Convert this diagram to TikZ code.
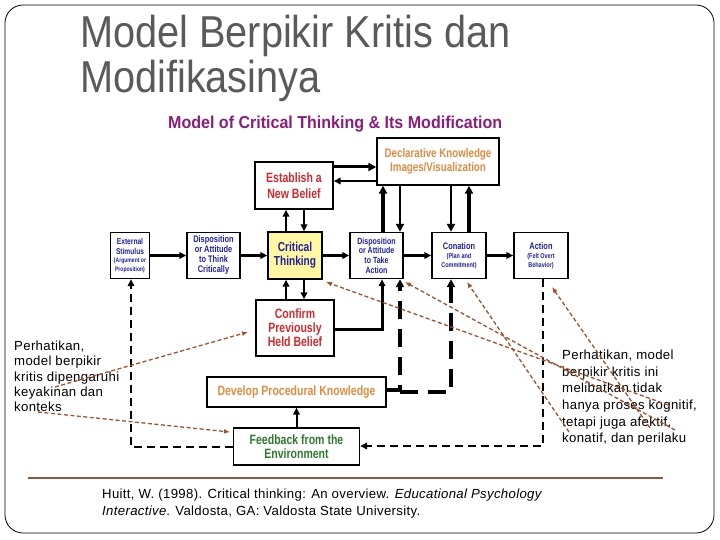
\documentclass[tikz,border=0pt]{standalone}
\usepackage{fontspec}
\setmainfont{Liberation Sans}
\newfontfamily\cnd[FakeStretch=0.78]{Liberation Sans}
\newfontfamily\notefont[LetterSpace=2.5]{Liberation Sans}
\usetikzlibrary{arrows.meta}
\definecolor{titlegray}{HTML}{5A5A5A}
\definecolor{purp}{HTML}{8B1C7C}
\definecolor{dblue}{HTML}{1F1FA0}
\definecolor{redt}{HTML}{D7282E}
\definecolor{oranget}{HTML}{E08B3F}
\definecolor{greent}{HTML}{2D7A2D}
\definecolor{yfill}{HTML}{FFF7A1}
\definecolor{annc}{HTML}{A0522D}
\definecolor{footc}{HTML}{8A5A3A}
\newcommand{\sm}[1]{\fontsize{#1}{#1}\selectfont}
\begin{document}
\begin{tikzpicture}[x=1pt,y=-1pt,
  box/.style={draw, line width=1.4pt, inner sep=0pt, align=center, text=dblue},
  harr/.style={line width=2.4pt, -{Triangle[length=7pt,width=6.5pt]}},
  tarr/.style={line width=3.6pt, -{Triangle[length=8pt,width=8pt]}},
  fdash/.style={line width=2.8pt, dash pattern=on 8pt off 5pt, -{Triangle[length=7pt,width=6.5pt]}},
  ldash/.style={line width=3.5pt, dash pattern=on 18pt off 10pt, -{Triangle[length=8pt,width=8pt]}},
  ann/.style={draw=annc, line width=1.3pt, dash pattern=on 4pt off 2.5pt, -{Latex[length=6pt,width=5pt]}},
  note/.style={inner sep=0pt, align=left, anchor=north west, font=\notefont\fontsize{13.2}{15.4}\selectfont}
]
\useasboundingbox (0,0) rectangle (720,540);
\draw[line width=0.8pt, rounded corners=18pt] (5,5) rectangle (714,533);

% titles
\node[anchor=base west, inner sep=0pt, text=titlegray] (t1) at (80,48)
  {\scalebox{0.888}[1]{\fontsize{44.7}{50}\selectfont Model Berpikir Kritis dan}};
\node[anchor=base west, inner sep=0pt, text=titlegray] (t2) at (80,93)
  {\scalebox{0.888}[1]{\fontsize{44.7}{50}\selectfont Modifikasinya}};
\node[anchor=base west, inner sep=0pt, text=purp] (st) at (168,129)
  {\resizebox{334pt}{12.5pt}{\cnd\bfseries Model of Critical Thinking \& Its Modification}};

% boxes
\node[box, minimum width=39pt, minimum height=46pt, font=\cnd\bfseries\fontsize{8.5}{9.5}\selectfont] (ext) at (130,255.5)
  {External\\Stimulus\\[-1pt]\sm{6.5}(Argument or\\[-1pt]\sm{6.5}Proposition)};
\node[box, minimum width=53pt, minimum height=46pt, font=\cnd\bfseries\fontsize{9.5}{10}\selectfont] (dt) at (213.5,255.5)
  {Disposition\\or Attitude\\to Think\\Critically};
\node[box, fill=yfill, minimum width=54pt, minimum height=47pt, font=\cnd\bfseries\fontsize{13}{14}\selectfont] (ct) at (295,255.5)
  {Critical\\Thinking};
\node[box, minimum width=53pt, minimum height=46pt, font=\cnd\bfseries\fontsize{9}{9.8}\selectfont] (da) at (376.5,255.5)
  {Disposition\\or Attitude\\to Take\\Action};
\node[box, minimum width=54pt, minimum height=46pt, font=\cnd\bfseries\fontsize{9.5}{11}\selectfont] (co) at (459,255.5)
  {Conation\\[-2pt]\sm{7}(Plan and\\[-2pt]\sm{7}Commitment)};
\node[box, minimum width=54pt, minimum height=46pt, font=\cnd\bfseries\fontsize{9.5}{11}\selectfont] (ac) at (541,255.5)
  {Action\\[-2pt]\sm{7}(Felt Overt\\[-2pt]\sm{7}Behavior)};
\node[box, text=redt, minimum width=78pt, minimum height=47pt, font=\cnd\bfseries\fontsize{13.5}{15.5}\selectfont] (eb) at (294,185.5)
  {Establish a\\New Belief};
\node[box, text=oranget, minimum width=122pt, minimum height=47pt, font=\cnd\bfseries\fontsize{12.5}{13.5}\selectfont] (dk) at (438,161.5)
  {Declarative Knowledge\\Images/Visualization};
\node[box, text=redt, minimum width=78pt, minimum height=56pt, font=\cnd\bfseries\fontsize{13.5}{14}\selectfont] (cf) at (295,328)
  {Confirm\\Previously\\Held Belief};
\node[box, text=oranget, minimum width=179pt, minimum height=30pt, font=\cnd\bfseries\fontsize{13.5}{15}\selectfont] (dp) at (296.5,392)
  {Develop Procedural Knowledge};
\node[box, text=greent, minimum width=126pt, minimum height=37pt, font=\cnd\bfseries\fontsize{13.5}{13.5}\selectfont] (fb) at (296.5,446.5)
  {Feedback from the\\Environment};

% horizontal chain
\draw[harr] (ext.east) -- (dt.west);
\draw[harr] (dt.east) -- (ct.west);
\draw[harr] (ct.east) -- (da.west);
\draw[harr] (da.east) -- (co.west);
\draw[harr] (co.east) -- (ac.west);

% critical thinking <-> beliefs
\draw[harr] (ct.north -| 286,0) -- (eb.south -| 286,0);
\draw[harr, line width=1.8pt] (eb.south -| 304,0) -- (ct.north -| 304,0);
\draw[harr] (cf.north -| 286,0) -- (ct.south -| 286,0);
\draw[harr, line width=1.8pt] (ct.south -| 304,0) -- (cf.north -| 304,0);

% declarative knowledge links
\draw[tarr, line width=3pt] (eb.east |- 0,167) -- (dk.west |- 0,167);
\draw[harr, line width=2pt] (dk.west |- 0,181) -- (eb.east |- 0,181);
\draw[tarr] (da.north -| 383,0) -- (dk.south -| 383,0);
\draw[tarr, line width=2.8pt] (dk.south -| 400,0) -- (da.north -| 400,0);
\draw[tarr, line width=2.8pt] (dk.south -| 451,0) -- (co.north -| 451,0);
\draw[tarr] (co.north -| 469,0) -- (dk.south -| 469,0);

% confirm -> action disposition
\draw[harr, line width=3pt] (cf.east |- 0,329) -| (da.south -| 382,0);
% procedural knowledge
\draw[ldash] (dp.east |- 0,390) -| (da.south -| 400,0);
\draw[ldash] (dp.east -| 400,0) -| (co.south -| 451,0);
% feedback
\draw[harr, line width=2pt] (fb.north) -- (dp.south);
\draw[fdash] (fb.west |- 0,447) -| (ext.south -| 131,0);
\draw[fdash] (ac.south -| 543,0) |- (fb.east |- 0,446);

% notes
\node[note] (lt) at (14,340.5) {Perhatikan,\\model berpikir\\kritis dipengaruhi\\keyakinan dan\\konteks};
\node[note, font=\notefont\fontsize{13.2}{16.6}\selectfont] (rt) at (562,350) {Perhatikan, model\\berpikir kritis ini\\melibatkan tidak\\hanya proses kognitif,\\tetapi juga afektif,\\konatif, dan perilaku};

\coordinate (la1) at (55,387);
\coordinate (la1e) at (248,332);
\coordinate (la2) at (38,412);
\coordinate (la2e) at (230,432);
\draw[ann] (la1) -- (la1e);
\draw[ann] (la2) -- (la2e);

\coordinate (ra1) at (668,405);
\coordinate (ra1e) at (326,282);
\coordinate (ra2) at (675,430);
\coordinate (ra2e) at (405,282);
\coordinate (ra3) at (569,432);
\coordinate (ra3e) at (467,282);
\coordinate (ra4) at (650,428);
\coordinate (ra4e) at (552,287);
\draw[ann] (ra1) -- (ra1e);
\draw[ann] (ra2) -- (ra2e);
\draw[ann] (ra3) -- (ra3e);
\draw[ann] (ra4) -- (ra4e);

% footer
\draw[footc, line width=2pt] (28,478) -- (663,478);
\node[note, font=\notefont\fontsize{13.2}{17}\selectfont] (ref) at (102,489)
  {Huitt, W. (1998). Critical thinking: An overview. \textit{Educational Psychology}\\\textit{Interactive}. Valdosta, GA: Valdosta State University.};
\end{tikzpicture}
\end{document}
